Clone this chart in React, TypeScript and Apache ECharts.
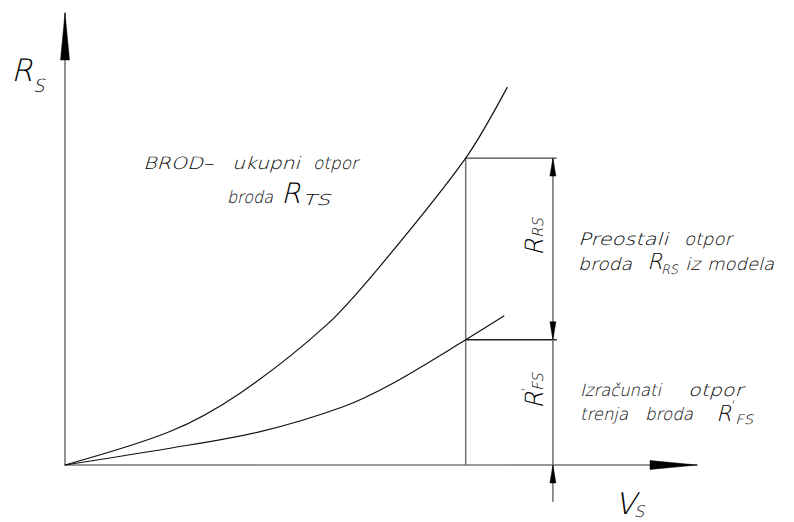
import React, { useEffect, useRef } from "react";
import * as echarts from "echarts";

// Ship speed V_S (x, relative units 0..100) vs resistance R_S (y, relative units 0..100)
const totalResistance: number[][] = [
  [0, 0], [16.6, 7.4], [27.7, 15.9], [41.4, 31.0], [49.8, 43.9], [63.4, 67.9], [70.0, 83.6],
];
const frictionResistance: number[][] = [
  [0, 0], [16.6, 3.7], [30.9, 7.4], [44.0, 12.9], [51.9, 18.1], [63.4, 27.7], [69.5, 33.0],
];
const shipSpeed = 63.4;
const totalAtSpeed = 67.9;
const frictionAtSpeed = 27.7;
const dimensionX = 77.2;
const extensionEndX = 77.8;
const dimensionBottom = -8.2;
const axisMin = 0;
const axisMax = 100;

// arrow tips: [x, y, direction] direction 0 = up, 1 = right, 2 = down
const axisArrows: number[][] = [[0, axisMax, 0], [axisMax, 0, 1]];
const dimensionArrows: number[][] = [[dimensionX, totalAtSpeed, 0], [dimensionX, frictionAtSpeed, 2], [dimensionX, 0, 0]];

const FONT = "'DejaVu Sans Light', 'DejaVu Sans', 'Noto Sans', sans-serif";
const WEIGHT = 300;

function makeArrow(len: number, wid: number) {
  return (params: any, api: any) => {
    const p = api.coord([api.value(0), api.value(1)]);
    const px = p[0];
    const py = p[1];
    const d = api.value(2);
    let pts: number[][];
    if (d === 0) pts = [[px, py], [px - wid / 2, py + len], [px + wid / 2, py + len]];
    else if (d === 1) pts = [[px, py], [px - len, py - wid / 2], [px - len, py + wid / 2]];
    else pts = [[px, py], [px - wid / 2, py - len], [px + wid / 2, py - len]];
    return {
      type: "polygon",
      shape: { points: pts },
      style: { fill: "#000", stroke: "#000", lineWidth: 0.5 },
    };
  };
}

let measureCtx: CanvasRenderingContext2D | null = null;
function measure(text: string, size: number): number {
  if (!measureCtx) measureCtx = document.createElement("canvas").getContext("2d");
  if (!measureCtx) return text.length * size * 0.6;
  measureCtx.font = `italic ${WEIGHT} ${size}px ${FONT}`;
  return measureCtx.measureText(text).width || text.length * size * 0.6;
}

function txt(text: string, x: number, y: number, size: number): any {
  return {
    type: "text",
    x,
    y,
    silent: true,
    style: {
      text,
      fontSize: size,
      fontFamily: FONT,
      fontStyle: "italic",
      fontWeight: WEIGHT,
      fill: "#000",
      align: "left",
      verticalAlign: "middle",
      textAlign: "left",
      textVerticalAlign: "middle",
    },
  };
}

// a word stretched to span [left, right]
function word(text: string, left: number, right: number, y: number, size: number): any {
  const el = txt(text, left, y, size);
  el.scaleX = (right - left) / measure(text, size);
  return el;
}

function helperLine(data: number[][], color: string, width: number) {
  return {
    type: "line",
    data,
    symbol: "none",
    clip: false,
    silent: true,
    smooth: false,
    lineStyle: { color, width },
    z: 3,
  };
}

export default function App() {
  const ref = useRef<HTMLDivElement>(null);
  useEffect(() => {
    if (!ref.current) return;
    const chart = echarts.init(ref.current, undefined, { renderer: "svg" });
    const axisCommon = {
      type: "value",
      min: axisMin,
      max: axisMax,
      axisLine: { show: true, onZero: false, lineStyle: { color: "#777", width: 1.6 } },
      axisTick: { show: false },
      axisLabel: { show: false },
      splitLine: { show: false },
    };
    const B = 17;
    chart.setOption({
      animation: false,
      backgroundColor: "#fff",
      grid: { left: 65, right: 97, top: 13, bottom: 57 },
      xAxis: { ...axisCommon },
      yAxis: { ...axisCommon },
      series: [
        {
          type: "line",
          name: "BROD - ukupni otpor",
          data: totalResistance,
          smooth: 0.3,
          symbol: "none",
          clip: false,
          lineStyle: { color: "#111", width: 1.2 },
          z: 4,
        },
        {
          type: "line",
          name: "Izračunati otpor trenja",
          data: frictionResistance,
          smooth: 0.3,
          symbol: "none",
          clip: false,
          lineStyle: { color: "#111", width: 1.2 },
          z: 4,
        },
        helperLine([[shipSpeed, 0], [shipSpeed, totalAtSpeed]], "#707070", 1.5),
        helperLine([[shipSpeed, totalAtSpeed], [extensionEndX, totalAtSpeed]], "#444", 1.4),
        helperLine([[shipSpeed, frictionAtSpeed], [extensionEndX, frictionAtSpeed]], "#222", 1.4),
        helperLine([[dimensionX, totalAtSpeed], [dimensionX, dimensionBottom]], "#707070", 1.5),
        {
          type: "custom",
          data: axisArrows,
          clip: false,
          silent: true,
          encode: { x: 0, y: 1 },
          renderItem: makeArrow(47, 9),
          z: 5,
        },
        {
          type: "custom",
          data: dimensionArrows,
          clip: false,
          silent: true,
          encode: { x: 0, y: 1 },
          renderItem: makeArrow(18, 6),
          z: 5,
        },
      ],
      graphic: [
        txt("R", 11, 70, 31),
        txt("S", 33, 85, 18),
        word("BROD–", 143, 213, 163, B),
        word("ukupni", 232, 300, 163, B),
        word("otpor", 313, 358, 163, B),
        word("broda", 227, 273, 197, B),
        txt("R", 281, 193, 28),
        word("TS", 302, 330, 200, 15),
        word("Preostali", 578, 668, 239, B),
        word("otpor", 684, 732, 239, B),
        word("broda", 578, 632, 264, B),
        txt("R", 647, 261, 22),
        word("RS", 661, 678, 269, 13),
        word("iz", 685, 700, 264, B),
        word("modela", 707, 774, 264, B),
        word("Izračunati", 580, 661, 390, B),
        word("otpor", 688, 743, 390, B),
        word("trenja", 580, 628, 414, B),
        word("broda", 645, 693, 414, B),
        txt("R", 716, 413, 22),
        txt("'", 730, 405, 12),
        word("FS", 735, 753, 419, 13),
        txt("V", 615, 503, 30),
        txt("S", 634, 511, 16),
        {
          type: "group",
          x: 534,
          y: 256,
          rotation: Math.PI / 2,
          children: [txt("R", 0, 0, 25), txt("RS", 18, 4, 15)],
        },
        {
          type: "group",
          x: 534,
          y: 409,
          rotation: Math.PI / 2,
          children: [txt("R", 0, 0, 25), txt("'", 16, -8, 12), txt("FS", 18, 4, 15)],
        },
      ],
    });
    return () => chart.dispose();
  }, []);
  return (
    <div
      ref={ref}
      style={{ position: "fixed", left: 0, top: 0, width: 794, height: 522, background: "#fff" }}
    />
  );
}
